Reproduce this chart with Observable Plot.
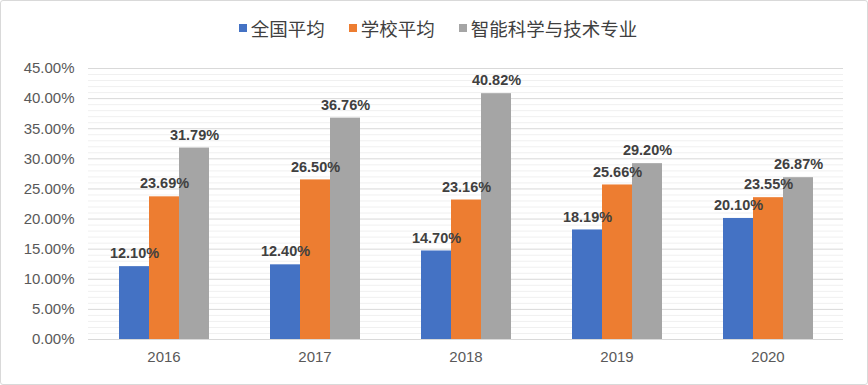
<!DOCTYPE html>
<html>
<head>
<meta charset="utf-8">
<script src="https://cdn.jsdelivr.net/npm/d3@7"></script>
<script src="https://cdn.jsdelivr.net/npm/@observablehq/plot@0.6"></script>
<style>
  html, body { margin: 0; padding: 0; background: #fff; }
  #wrap { position: relative; width: 866px; height: 383px; border: 1px solid #d9d9d9; border-radius: 3px; overflow: hidden; font-family: "Liberation Sans", Arial, sans-serif; }
  #legend { height: 44px; display: flex; justify-content: center; align-items: center; font-family: "Noto Sans CJK SC", sans-serif; font-size: 18.5px; color: #404040; padding-top: 10px; padding-left: 8px; box-sizing: border-box; }
  .item { display: flex; align-items: center; margin: 0 12px; }
  .sw { width: 8px; height: 8px; margin-right: 4px; }
</style>
</head>
<body>
<div id="wrap">
  <div id="legend"></div>
  <div id="chart"></div>
</div>
<script>
const years = ["2016", "2017", "2018", "2019", "2020"];
const seriesNames = ["全国平均", "学校平均", "智能科学与技术专业"];
const national = [12.10, 12.40, 14.70, 18.19, 20.10];
const school = [23.69, 26.50, 23.16, 25.66, 23.55];
const major = [31.79, 36.76, 40.82, 29.20, 26.87];
const colors = ["#4472C4", "#ED7D31", "#A5A5A5"];
const yTicks = [0, 5, 10, 15, 20, 25, 30, 35, 40, 45];
const minorTicks = d3.range(0, 45, 1).filter(v => v % 5 !== 0);

const seriesValues = [national, school, major];
const data = [];
years.forEach((y, i) => {
  seriesNames.forEach((s, j) => data.push({year: y, series: s, value: seriesValues[j][i]}));
});

const legend = document.getElementById("legend");
seriesNames.forEach((s, j) => {
  const it = document.createElement("div");
  it.className = "item";
  it.innerHTML = `<span class="sw" style="background:${colors[j]}"></span><span>${s}</span>`;
  legend.appendChild(it);
});

const chart = Plot.plot({
  width: 866,
  height: 339,
  marginLeft: 86,
  marginRight: 23,
  marginTop: 23,
  marginBottom: 45,
  style: {fontFamily: "Liberation Sans, Arial, sans-serif", background: "transparent"},
  fx: {domain: years, padding: 0, label: null, axis: null},
  x: {domain: seriesNames, paddingInner: 0, paddingOuter: 0.99, axis: null},
  y: {domain: [0, 45], axis: null},
  color: {domain: seriesNames, range: colors},
  marks: [
    Plot.ruleY(minorTicks, {stroke: "#f0f0f0", strokeWidth: 1}),
    Plot.ruleY(yTicks, {stroke: "#d9d9d9", strokeWidth: 1}),
    Plot.barY(data, {fx: "year", x: "series", y: "value", fill: "series", inset: 0}),
    Plot.text(data, {fx: "year", x: "series", y: "value", text: d => d.value.toFixed(2) + "%", dy: -13, fontSize: 14.5, fontWeight: "bold", fill: "#404040"}),
    Plot.axisFx({domain: years, anchor: "bottom", tickSize: 0, label: null, fontSize: 15, color: "#595959", tickPadding: 12}),
    Plot.axisY(yTicks, {tickSize: 0, tickPadding: 14, tickFormat: d => d.toFixed(2) + "%", fontSize: 15, color: "#595959", label: null})
  ]
});
document.getElementById("chart").appendChild(chart);
</script>
</body>
</html>
